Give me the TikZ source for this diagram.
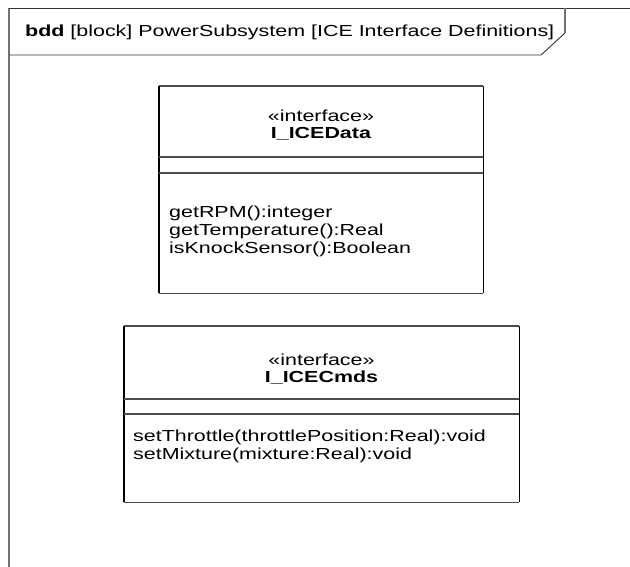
\documentclass[tikz,border=0pt]{standalone}
\usepackage{fontspec}
\setmainfont{Liberation Sans}
\newcommand{\hstretch}[1]{\scalebox{1.34}[1]{#1}}
\begin{document}
\begin{tikzpicture}[x=1pt,y=-1pt,
  framev/.style={draw=black!55,line width=1.5pt},
  frameh/.style={draw=black!80,line width=0.9pt},
  vline/.style={draw=black,line width=1.6pt},
  hline/.style={draw=black!70,line width=1.1pt},
  boxnode/.style={draw=none,anchor=north west,inner sep=0pt},
  txt/.style={inner sep=0pt,font=\fontsize{16}{18}\selectfont},
  optxt/.style={txt,anchor=north west,align=left,font=\fontsize{16}{18}\selectfont}]
\useasboundingbox (0,0) rectangle (630,567);
\fill[white] (0,0) rectangle (630,567);
% frame
\coordinate (fbl) at (9,567);
\coordinate (ftl) at (9,8);
\coordinate (ftr) at (630,8);
\coordinate (tab1) at (9,55);
\coordinate (tab2) at (541,55);
\coordinate (tab3) at (565,33);
\coordinate (tab4) at (565,8);
\draw[framev] (fbl) -- (ftl);
\draw[frameh] (ftl) -- (ftr);
\draw[frameh] (tab1) -- (tab2) -- (tab3);
\draw[framev] (tab3) -- (tab4);
\node[txt,anchor=west] (title) at (25,32) {\hstretch{\textbf{bdd} [block] PowerSubsystem [ICE Interface Definitions]}};
% box 1
\node[boxnode,minimum width=324pt,minimum height=207pt] (b1) at (159,86) {};
\draw[hline] (b1.north west) -- (b1.north east) (b1.south west) -- (b1.south east);
\draw[vline] (b1.north west) -- (b1.south west) (b1.north east) -- (b1.south east);
\draw[hline] ([yshift=-71pt]b1.north west) coordinate (b1s1) -- ([yshift=-71pt]b1.north east);
\draw[hline] ([yshift=-87pt]b1.north west) coordinate (b1s2) -- ([yshift=-87pt]b1.north east);
\node[txt] (b1st) at (321,116) {\hstretch{«interface»}};
\node[txt] (b1nm) at (321,134) {\hstretch{\textbf{I\_ICEData}}};
\node[optxt] (b1ops) at (169,206) {\hstretch{getRPM():integer}\\\hstretch{getTemperature():Real}\\\hstretch{isKnockSensor():Boolean}};
% box 2
\node[boxnode,minimum width=395pt,minimum height=176pt] (b2) at (124,326) {};
\draw[hline] (b2.north west) -- (b2.north east) (b2.south west) -- (b2.south east);
\draw[vline] (b2.north west) -- (b2.south west) (b2.north east) -- (b2.south east);
\draw[hline] ([yshift=-73pt]b2.north west) coordinate (b2s1) -- ([yshift=-73pt]b2.north east);
\draw[hline] ([yshift=-88pt]b2.north west) coordinate (b2s2) -- ([yshift=-88pt]b2.north east);
\node[txt] (b2st) at (321.5,360) {\hstretch{«interface»}};
\node[txt] (b2nm) at (321.5,378) {\hstretch{\textbf{I\_ICECmds}}};
\node[optxt] (b2ops) at (133,430) {\hstretch{setThrottle(throttlePosition:Real):void}\\\hstretch{setMixture(mixture:Real):void}};
\end{tikzpicture}
\end{document}
